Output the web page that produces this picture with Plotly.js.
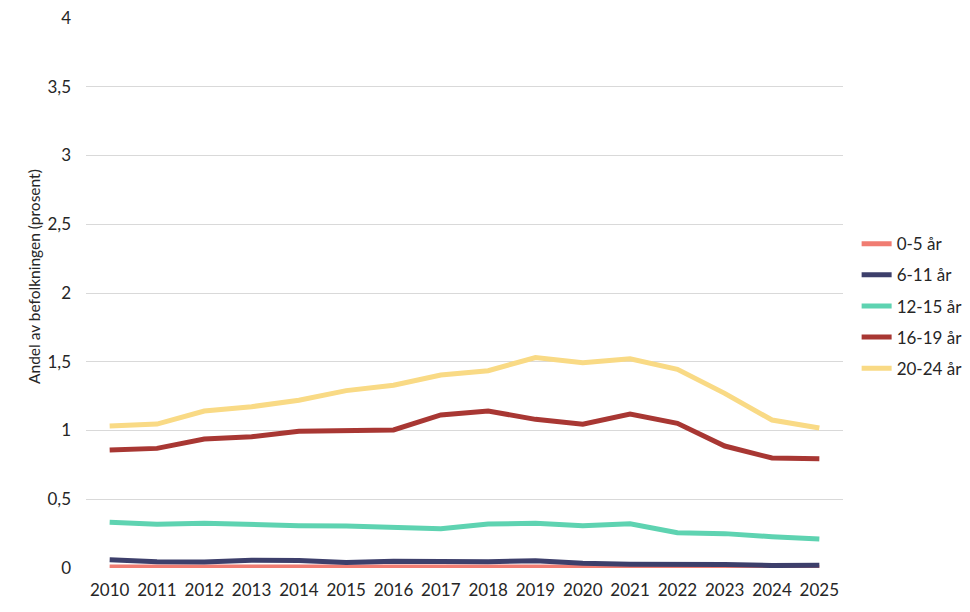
<!DOCTYPE html>
<html>
<head>
<meta charset="utf-8">
<script src="https://cdn.plot.ly/plotly-3.0.1.min.js"></script>
<style>
  html, body { margin: 0; padding: 0; background: #ffffff; }
  #chart { width: 970px; height: 612px; }
</style>
</head>
<body>
<div id="chart"></div>
<script>
// Years on the x axis
const years = ["2010","2011","2012","2013","2014","2015","2016","2017",
               "2018","2019","2020","2021","2022","2023","2024","2025"];

// Share of the population (percent) per age group
const age0to5   = [0.008,0.008,0.008,0.008,0.008,0.008,0.008,0.008,0.008,0.008,0.007,0.007,0.007,0.007,0.006,0.006];
const age6to11  = [0.060,0.046,0.044,0.056,0.055,0.040,0.050,0.046,0.046,0.052,0.035,0.028,0.030,0.025,0.018,0.020];
const age12to15 = [0.332,0.318,0.325,0.313,0.308,0.305,0.300,0.286,0.320,0.325,0.308,0.322,0.257,0.250,0.228,0.211];
const age16to19 = [0.858,0.870,0.938,0.955,0.994,1.001,1.004,1.113,1.142,1.081,1.045,1.120,1.052,0.887,0.800,0.795];
const age20to24 = [1.033,1.047,1.142,1.173,1.220,1.290,1.329,1.404,1.435,1.530,1.493,1.522,1.445,1.270,1.076,1.018];

const seriesNames  = ["0-5 år","6-11 år","12-15 år","16-19 år","20-24 år"];
const seriesValues = [age0to5, age6to11, age12to15, age16to19, age20to24];
const seriesColors = ["#F07C72","#3D3F6B","#5ED3B1","#A83733","#F9DA85"];

const yTitle = "Andel av befolkningen (prosent)";

const traces = seriesValues.map((vals, i) => ({
  type: "scatter",
  mode: "lines",
  x: years,
  y: vals,
  name: seriesNames[i],
  legendgroup: "g" + i,
  line: { color: seriesColors[i], width: 5 },
  hoverinfo: "x+y+name"
}));

const textColor = "#262626";

const layout = {
  width: 970,
  height: 612,
  paper_bgcolor: "#ffffff",
  plot_bgcolor: "#ffffff",
  margin: { l: 86, r: 127, t: 18, b: 44, autoexpand: false },
  font: { family: "Lato, 'Open Sans', sans-serif", size: 17, color: textColor },
  showlegend: true,
  legend: {
    x: 1.018, xanchor: "left",
    y: 0.476, yanchor: "middle",
    traceorder: "grouped",
    tracegroupgap: 6,
    itemwidth: 30,
    font: { size: 17, color: textColor },
    bgcolor: "rgba(0,0,0,0)"
  },
  xaxis: {
    type: "category",
    range: [-0.5, 15.5],
    showgrid: false,
    showline: false,
    zeroline: false,
    ticks: "",
    ticklabelstandoff: 10,
    tickfont: { size: 17, color: textColor },
    fixedrange: true
  },
  yaxis: {
    range: [0, 4],
    dtick: 0.5,
    tick0: 0,
    showgrid: true,
    gridcolor: "#d9d9d9",
    gridwidth: 1,
    zeroline: false,
    showline: false,
    ticks: "",
    ticklabelstandoff: 14,
    tickfont: { size: 17, color: textColor },
    fixedrange: true
  },
  annotations: [{
    text: yTitle,
    xref: "paper", yref: "paper",
    x: -0.0687, y: 0.531,
    xanchor: "center", yanchor: "middle",
    textangle: -90,
    showarrow: false,
    font: { size: 15.5, color: textColor }
  }],
  separators: ", "
};

Plotly.newPlot("chart", traces, layout, { displayModeBar: false, staticPlot: true });
</script>
</body>
</html>
